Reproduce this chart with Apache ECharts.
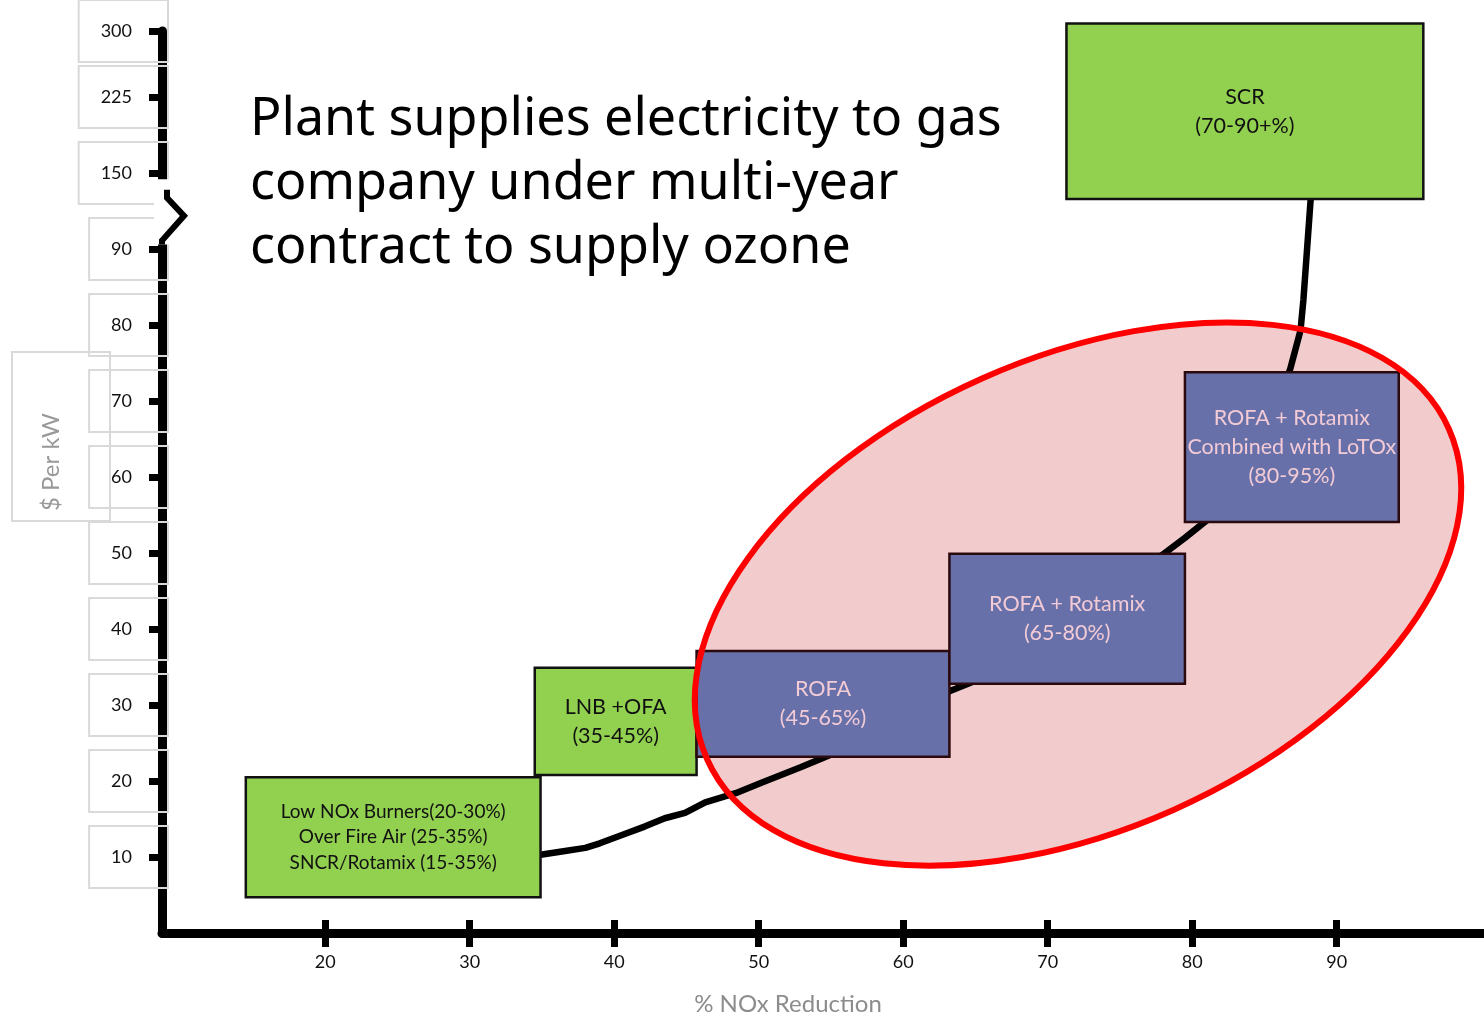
<!DOCTYPE html>
<html>
<head>
<meta charset="utf-8">
<title>NOx reduction cost</title>
<script src="https://cdn.jsdelivr.net/npm/echarts@6/dist/echarts.min.js"></script>
<style>
  html, body { margin: 0; padding: 0; background: #fff; }
  #chart { width: 1484px; height: 1020px; }
</style>
</head>
<body>
<div id="chart"></div>
<script>
// axis ticks
const xTicks = [20, 30, 40, 50, 60, 70, 80, 90];
const yTicks = [10, 20, 30, 40, 50, 60, 70, 80, 90, 100, 110, 118.7];
// upper part of the y axis is compressed: tick position -> printed value
const yTickLabels = { 100: '150', 110: '225', 118.7: '300' };
const yBreak = [90.6, 99.2];

// technology boxes (% NOx reduction on x, $ per kW on y)
const boxLabels = [
  'Low NOx Burners(20-30%)\nOver Fire Air (25-35%)\nSNCR/Rotamix (15-35%)',
  'LNB +OFA\n(35-45%)',
  'ROFA\n(45-65%)',
  'ROFA + Rotamix\n(65-80%)',
  'ROFA + Rotamix\nCombined with LoTOx\n(80-95%)',
  'SCR\n(70-90+%)'
];
const boxKind = ['green', 'green', 'blue', 'blue', 'blue', 'green'];
const boxX0 = [14.5, 34.5, 45.7, 63.2, 79.5, 71.3];
const boxX1 = [34.9, 45.7, 63.2, 79.5, 94.3, 96.0];
const boxY0 = [4.7, 20.8, 23.2, 32.8, 54.1, 96.6];
const boxY1 = [20.5, 34.9, 37.1, 49.9, 73.8, 119.7];

// cost curve through the options
const curveX = [34.9, 36.6, 38.0, 39.0, 40.4, 42.1, 43.5, 44.9, 46.3, 48.4, 50.1, 52.9, 54.9, 59.8, 63.2, 65.0, 73.6, 78.1, 79.5, 81.2, 83.3];
const curveY = [10.3, 10.8, 11.2, 11.8, 12.8, 14.0, 15.1, 15.8, 17.2, 18.4, 19.7, 21.8, 23.4, 28.3, 31.8, 33.2, 43.8, 50.0, 52.0, 54.6, 57.6];
// link from LoTOx box up to SCR box
const linkX = [86.4, 86.8, 87.5, 87.7, 88.2];
const linkY = [72.1, 74.3, 79.3, 83.3, 96.5];

// highlighted region
const ellipseCenter = [72.1, 44.6];

const xMin = 8.7;
const xMax = 100.2;

const chart = echarts.init(document.getElementById('chart'));

function renderBox(params, api) {
  const i = params.dataIndex;
  const p0 = api.coord([api.value(0), api.value(3)]);
  const p1 = api.coord([api.value(2), api.value(1)]);
  const blue = boxKind[i] === 'blue';
  const small = i === 0;
  return {
    type: 'group',
    children: [
      {
        type: 'rect',
        shape: { x: p0[0], y: p0[1], width: p1[0] - p0[0], height: p1[1] - p0[1] },
        style: { fill: blue ? '#6770a9' : '#92d050', stroke: blue ? '#2a0a0e' : '#111', lineWidth: 2.5 }
      },
      {
        type: 'text',
        x: (p0[0] + p1[0]) / 2,
        y: (p0[1] + p1[1]) / 2,
        style: {
          text: boxLabels[i],
          fill: blue ? '#f3cbd6' : '#111',
          font: (small ? '19px' : '21.5px') + ' Lato, sans-serif',
          lineHeight: small ? 25.5 : 29,
          align: 'center',
          verticalAlign: 'middle'
        }
      }
    ]
  };
}

function renderEllipse(filled) {
  return function (params, api) {
    const c = api.coord([api.value(0), api.value(1)]);
    return {
      type: 'ellipse',
      x: c[0],
      y: c[1],
      rotation: 24 * Math.PI / 180,
      shape: { cx: 0, cy: 0, rx: 406, ry: 236 },
      style: filled
        ? { fill: '#f2cccc', stroke: null }
        : { fill: null, stroke: '#ff0000', lineWidth: 6 }
    };
  };
}

function renderBreak(params, api) {
  const lo = api.coord([xMin, api.value(0)]);
  const hi = api.coord([xMin, api.value(1)]);
  const ax = lo[0];
  const mid = (lo[1] + hi[1]) / 2;
  return {
    type: 'group',
    children: [
      { type: 'rect', shape: { x: ax - 8, y: hi[1], width: 30, height: lo[1] - hi[1] }, style: { fill: '#fff' } },
      {
        type: 'polyline',
        shape: { points: [[ax, lo[1]], [ax, lo[1] - 4], [ax + 22, mid + 4], [ax + 5, mid - 14], [ax + 5, mid - 22]] },
        style: { stroke: '#000', lineWidth: 6, fill: null }
      }
    ]
  };
}

const option = {
  backgroundColor: '#fff',
  animation: false,
  grid: { left: 162, right: 0, top: 31, bottom: 87, containLabel: false, outerBoundsMode: 'none' },
  graphic: [
    {
      type: 'text',
      left: 250,
      top: 88,
      style: {
        text: 'Plant supplies electricity to gas\ncompany under multi-year\ncontract to supply ozone',
        font: '52px "Noto Sans", sans-serif',
        lineHeight: 64,
        fill: '#000'
      }
    },
    {
      type: 'text',
      x: 12,
      y: 521,
      rotation: Math.PI / 2,
      style: {
        text: '$ Per kW',
        font: '24px Lato, sans-serif',
        fill: '#999',
        borderColor: '#d9d9d9',
        borderWidth: 2,
        padding: [27, 61, 47, 10]
      }
    }
  ],
  xAxis: [
    {
      type: 'value',
      min: xMin,
      max: xMax,
      splitLine: { show: false },
      axisLine: { lineStyle: { color: '#000', width: 9 } },
      axisTick: { show: true, length: 14, customValues: xTicks, lineStyle: { color: '#000', width: 7 } },
      axisLabel: { customValues: xTicks, color: '#111', fontSize: 18, fontFamily: 'Lato', margin: 20 },
      name: '% NOx Reduction',
      nameLocation: 'middle',
      nameGap: 59,
      nameTextStyle: { color: '#8c8c8c', fontSize: 24, fontFamily: 'Lato', padding: [0, 70, 0, 0] }
    },
    {
      type: 'value',
      min: xMin,
      max: xMax,
      position: 'bottom',
      splitLine: { show: false },
      axisLine: { show: false },
      axisTick: { show: true, inside: true, length: 13, customValues: xTicks, lineStyle: { color: '#000', width: 7 } },
      axisLabel: { show: false }
    }
  ],
  yAxis: {
    type: 'value',
    min: 0,
    max: 118.7,
    splitLine: { show: false },
    axisLine: { lineStyle: { color: '#000', width: 9 } },
    axisTick: { show: true, length: 13, customValues: yTicks, lineStyle: { color: '#000', width: 7 } },
    axisLabel: {
      customValues: yTicks,
      formatter: v => yTickLabels[v] || String(v),
      color: '#111',
      fontSize: 18,
      fontFamily: 'Lato',
      margin: -6,
      borderColor: '#d9d9d9',
      borderWidth: 2,
      padding: [22, 36, 22, 22]
    }
  },
  series: [
    {
      type: 'custom',
      z: 1,
      silent: true,
      clip: false,
      renderItem: renderEllipse(true),
      data: [ellipseCenter]
    },
    {
      type: 'line',
      z: 2,
      silent: true,
      showSymbol: false,
      symbol: 'none',
      lineStyle: { color: '#000', width: 6.5 },
      data: curveX.map((x, i) => [x, curveY[i]])
    },
    {
      type: 'line',
      z: 2,
      silent: true,
      showSymbol: false,
      symbol: 'none',
      lineStyle: { color: '#000', width: 6.5 },
      data: linkX.map((x, i) => [x, linkY[i]])
    },
    {
      type: 'custom',
      z: 3,
      silent: true,
      clip: false,
      renderItem: renderBox,
      encode: { x: [0, 2], y: [1, 3] },
      data: boxLabels.map((_, i) => [boxX0[i], boxY0[i], boxX1[i], boxY1[i]])
    },
    {
      type: 'custom',
      z: 4,
      silent: true,
      clip: false,
      renderItem: renderEllipse(false),
      data: [ellipseCenter]
    },
    {
      type: 'custom',
      z: 4,
      silent: true,
      renderItem: renderBreak,
      data: [yBreak]
    }
  ]
};

chart.setOption(option);
</script>
</body>
</html>
